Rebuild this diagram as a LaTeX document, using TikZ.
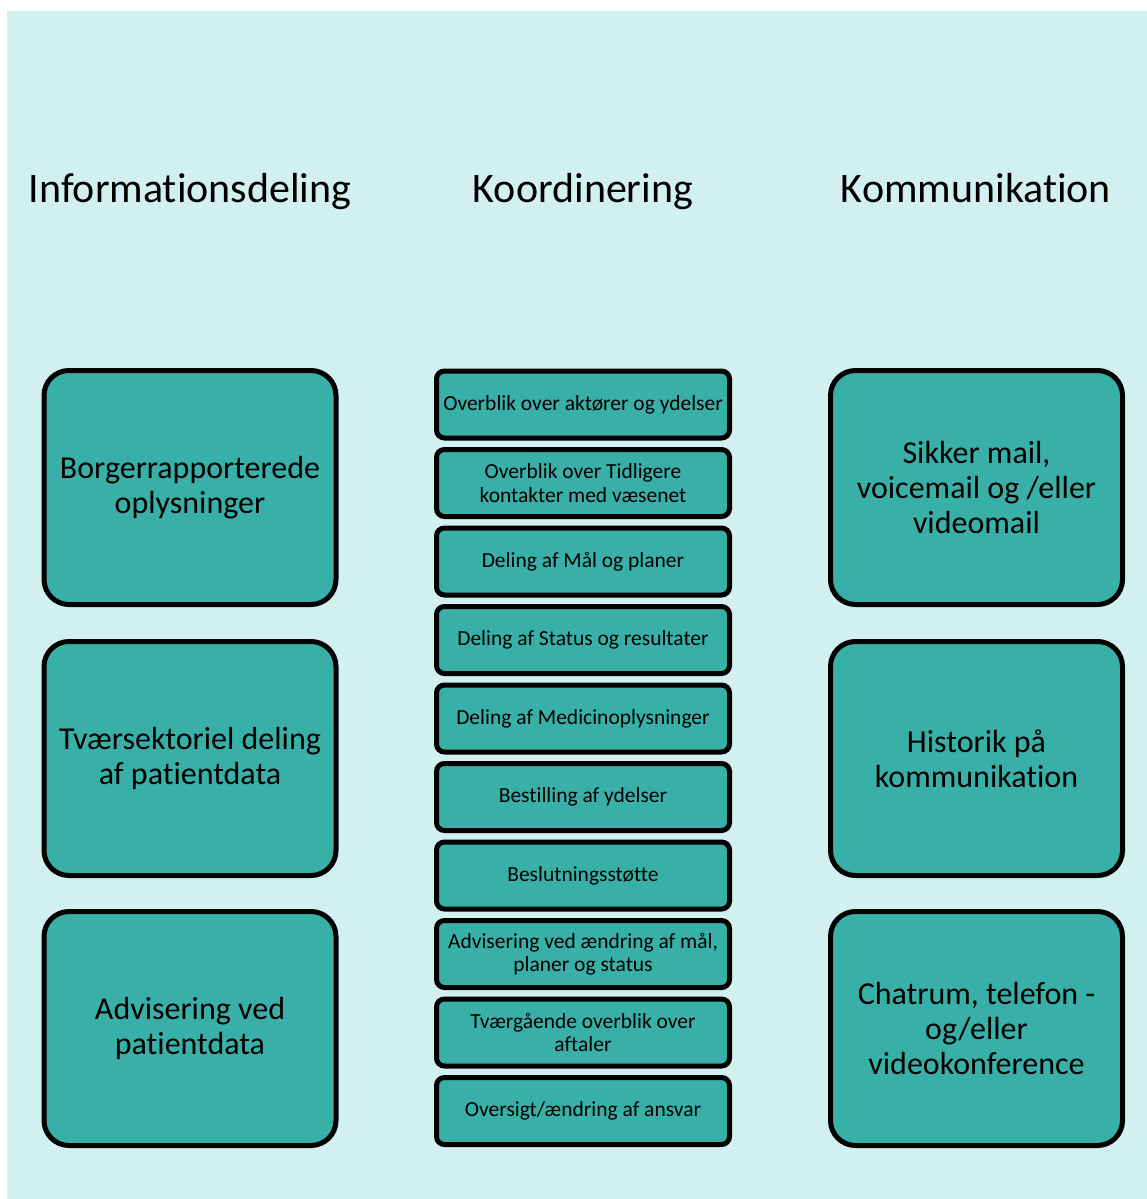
\documentclass[tikz,border=0pt]{standalone}
\usepackage{fontspec}
\setmainfont{Carlito}[RawFeature={-liga;-calt;-clig;-dlig}]
\usepackage{tikz}
\definecolor{bgmint}{RGB}{211,240,240}
\definecolor{boxteal}{RGB}{56,176,168}
\tikzset{
	head/.style={anchor=base, font=\fontsize{42}{46}\selectfont},
	bigbox/.style={draw, line width=5pt, fill=boxteal, rounded corners=25pt, minimum width=292pt, minimum height=234pt, align=center, inner sep=0pt, font=\fontsize{32}{35}\selectfont},
	smallbox/.style={draw, line width=5pt, fill=boxteal, rounded corners=8pt, minimum width=293pt, minimum height=67pt, align=center, inner sep=0pt, font=\fontsize{21.5}{23.5}\selectfont}
}
\begin{document}
\begin{tikzpicture}[x=1pt,y=-1pt]
	\useasboundingbox (0,0) rectangle (1147,1199);
	\fill [bgmint] (7,11) rectangle (1147,1199);
	% column headings
	\node[head] (hinfo) at (190,202) {Informationsdeling};
	\node[head] (hkoord) at (583,202) {Koordinering};
	\node[head] (hkomm) at (976,202) {Kommunikation};
	% left column
	\node[bigbox] (borger) at (190,487.5) {Borgerrapporterede\\oplysninger};
	\node[bigbox] (tvaer) at (190,758.5) {Tværsektoriel deling\\af patientdata};
	\node[bigbox] (advis) at (190,1028.5) {Advisering ved\\patientdata};
	% middle column
	\node[smallbox] (aktoer) at (583,404.5) {Overblik over aktører og ydelser};
	\node[smallbox] (tidl) at (583,483) {Overblik over Tidligere\\kontakter med væsenet};
	\node[smallbox] (maal) at (583,561.5) {Deling af Mål og planer};
	\node[smallbox] (status) at (583,640) {Deling af Status og resultater};
	\node[smallbox] (medicin) at (583,718.5) {Deling af Medicinoplysninger};
	\node[smallbox] (bestil) at (583,797) {Bestilling af ydelser};
	\node[smallbox] (beslut) at (583,875.5) {Beslutningsstøtte};
	\node[smallbox] (aendr) at (583,954) {Advisering ved ændring af mål,\\planer og status};
	\node[smallbox] (aftaler) at (583,1032.5) {Tværgående overblik over\\aftaler};
	\node[smallbox] (ansvar) at (583,1111) {Oversigt/ændring af ansvar};
	% right column
	\node[bigbox] (mail) at (976.5,487.5) {Sikker mail,\\voicemail og /eller\\videomail};
	\node[bigbox] (hist) at (976.5,758.5) {Historik på\\kommunikation};
	\node[bigbox] (chat) at (976.5,1028.5) {Chatrum, telefon -\\og/eller\\videokonference};
\end{tikzpicture}
\end{document}
